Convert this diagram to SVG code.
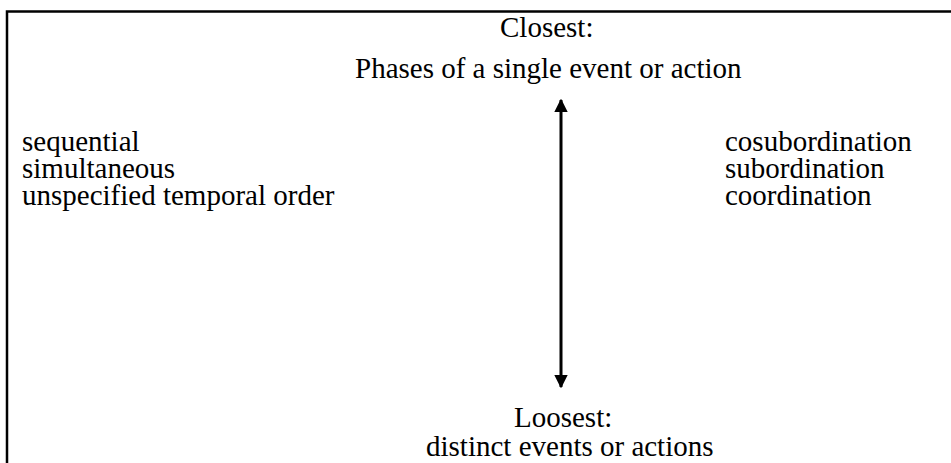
<svg xmlns="http://www.w3.org/2000/svg" width="951" height="463" viewBox="0 0 951 463">
<defs>
<style>
text{font-family:"Liberation Serif","Times New Roman",serif;font-size:29px;fill:#000}
</style>
<marker id="ah" viewBox="0 0 10 10" refX="9" refY="5" markerWidth="4.5" markerHeight="4.5" orient="auto-start-reverse" markerUnits="strokeWidth">
<path d="M0,0 L10,5 L0,10 z" fill="#000"/>
</marker>
</defs>
<rect x="0" y="0" width="951" height="463" fill="#fff"/>
<path d="M7,463 V11.5 H951" fill="none" stroke="#000" stroke-width="2.5"/>
<g id="top">
<text x="500" y="37">Closest:</text>
<text x="355" y="78">Phases of a single event or action</text>
</g>
<g id="bottom">
<text x="514" y="427">Loosest:</text>
<text x="426" y="456">distinct events or actions</text>
</g>
<g id="left">
<text x="22" y="151">sequential</text>
<text x="22" y="178">simultaneous</text>
<text x="22" y="205">unspecified temporal order</text>
</g>
<g id="right">
<text x="725" y="151">cosubordination</text>
<text x="725" y="178">subordination</text>
<text x="725" y="205">coordination</text>
</g>
<g id="connectors">
<line x1="561" y1="100" x2="561" y2="387" stroke="#000" stroke-width="3" marker-start="url(#ah)" marker-end="url(#ah)"/>
</g>
</svg>
